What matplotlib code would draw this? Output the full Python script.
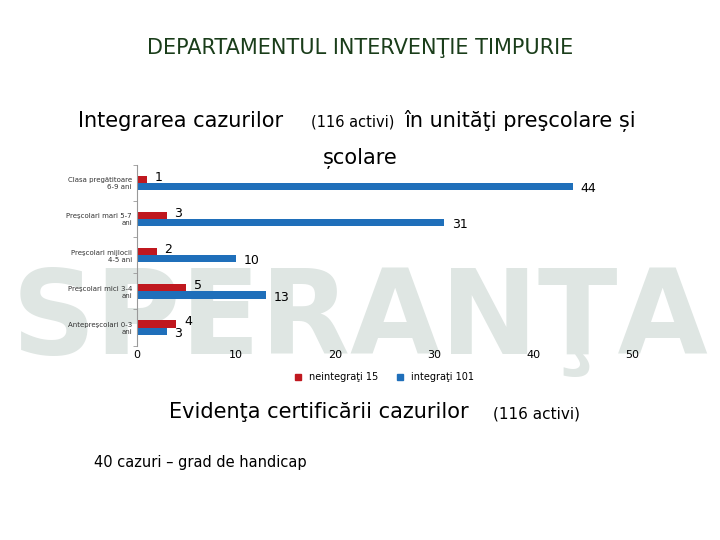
import matplotlib
matplotlib.use("Agg")
import matplotlib.pyplot as plt
import numpy as np
from matplotlib.patches import Patch

categories = ["Antepreşcolari 0-3\nani", "Preşcolari mici 3-4\nani", "Preşcolari mijlocii\n4-5 ani",
              "Preşcolari mari 5-7\nani", "Clasa pregătitoare\n6-9 ani"]
neintegrati = [4, 5, 2, 3, 1]
integrati = [3, 13, 10, 31, 44]
xticks = [0, 10, 20, 30, 40, 50]

fig = plt.figure(figsize=(7.2, 5.4), dpi=100)
fig.patch.set_facecolor("white")
wm = fig.text(0.5, 0.405, "SPERANŢA", ha="center", va="center", fontsize=84, color="#dfe6e3",
              fontweight="bold", family="DejaVu Sans")
wm.set_zorder(-5)
fig.text(0.5, 0.9, "DEPARTAMENTUL INTERVENŢIE TIMPURIE", ha="center", fontsize=15, color="#1a3d1a")
fig.text(0.108, 0.765, "Integrarea cazurilor ", fontsize=15)
fig.text(0.432, 0.765, "(116 activi)", fontsize=10.5)
fig.text(0.562, 0.765, "în unităţi preşcolare și", fontsize=15)
fig.text(0.5, 0.697, "școlare", ha="center", fontsize=15)
fig.text(0.235, 0.225, "Evidenţa certificării cazurilor ", fontsize=15)
fig.text(0.685, 0.225, "(116 activi)", fontsize=11)
fig.text(0.13, 0.135, "40 cazuri – grad de handicap", fontsize=10.5)

ax = fig.add_axes([0.19, 0.36, 0.688, 0.335])
ax.set_zorder(1)
ax.patch.set_alpha(0)
y = np.arange(len(categories))
h = 0.2
ax.barh(y + h/2, neintegrati, height=h, color="#c0181f")
ax.barh(y - h/2, integrati, height=h, color="#1f6fba")
for yi, a, b in zip(y, neintegrati, integrati):
    ax.text(a + 0.8, yi + h/2 + 0.06, str(a), va="center", fontsize=9)
    ax.text(b + 0.8, yi - h/2 - 0.06, str(b), va="center", fontsize=9)
ax.set_xlim(0, 50)
ax.set_ylim(-0.5, 4.5)
ax.set_xticks(xticks)
ax.set_xticklabels([str(v) for v in xticks], fontsize=8)
ax.set_yticks(y)
ax.set_yticklabels(categories, fontsize=5, color="#333333")
ax.tick_params(axis="both", length=0)
ax.set_yticks(np.arange(-0.5, 5, 1), minor=True)
ax.tick_params(axis="y", which="minor", length=3, color="#999999")
for s in ["top", "right", "bottom"]:
    ax.spines[s].set_visible(False)
ax.spines["left"].set_color("#999999")
ax.legend([Patch(color="#c0181f"), Patch(color="#1f6fba")], ["neintegraţi 15", "integraţi 101"],
          loc="upper center", bbox_to_anchor=(0.5, -0.1), ncol=2, frameon=False, fontsize=7,
          handlelength=0.6, handleheight=0.6)
fig.savefig("out.png", dpi=100)
